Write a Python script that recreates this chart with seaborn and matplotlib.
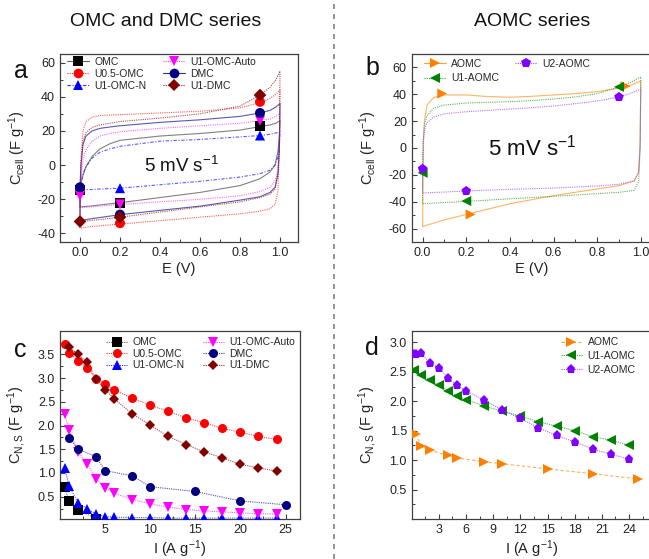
import numpy as np
import pandas as pd
import matplotlib
matplotlib.use('Agg')
import matplotlib.pyplot as plt
import seaborn as sns
from matplotlib.lines import Line2D
from matplotlib.ticker import MultipleLocator

sns.set_theme(style="ticks")
plt.rcParams['font.family'] = ['Liberation Sans', 'DejaVu Sans']
plt.rcParams['mathtext.fontset'] = 'custom'
plt.rcParams['mathtext.rm'] = 'Liberation Sans'
plt.rcParams['mathtext.it'] = 'Liberation Sans:italic'
plt.rcParams['axes.unicode_minus'] = False

# ---------------- panel a : CV loops (OMC / DMC series) ----------------
a_up_E = [0.0, 0.005, 0.015, 0.03, 0.06, 0.1, 0.15, 0.2, 0.4, 0.6, 0.8, 0.9, 0.95, 0.98, 1.0]
a_dn_E = [1.0, 0.997, 0.99, 0.975, 0.95, 0.9, 0.8, 0.6, 0.4, 0.2, 0.05, 0.0]

omc_up = [-15, -11, -6, -1, 5, 9.5, 12.5, 14.5, 17, 18.5, 20.5, 22.5, 23.5, 24.5, 26]
omc_dn = [26, 18, 8, 0, -4, -8, -12, -16, -19, -22, -24, -24.5]
u05_up = [-14.5, 5, 20, 25.5, 28, 29, 29.3, 29.5, 30.5, 31.5, 33.5, 36.5, 39, 41.5, 44]
u05_dn = [44, 10, -15, -23, -25.5, -27, -28.5, -30.5, -32.5, -34.5, -36, -37]
omcn_up = [-13, -10, -5, -1, 4, 7.5, 9.5, 11, 14, 15, 16.5, 17.3, 18, 18.8, 19.5]
omcn_dn = [19.5, 12, 5, 0, -3, -5, -7, -9.5, -11.5, -13.5, -14.3, -14.5]
auto_up = [-18, -8, 3, 9, 14, 17, 18.5, 19.5, 21.5, 23, 24.5, 26, 27, 28.5, 30]
auto_dn = [30, 10, -3, -9, -13, -15.5, -18, -20, -21.5, -23, -24.5, -25]
dmc_up = [-13, 0, 12, 17, 20, 21.5, 22.3, 23, 25, 26.5, 28.5, 30.5, 32, 34, 36]
dmc_dn = [36, 10, -5, -13, -16, -18.5, -20.5, -24, -26.5, -29, -31.5, -32.5]
u1dmc_up = [-33, 0, 14, 19, 22, 23.5, 24.5, 25.5, 27.5, 30, 34.5, 41, 45.5, 50, 55]
u1dmc_dn = [55, 15, -5, -14, -17, -19, -21.5, -24.5, -27.5, -30.5, -32.5, -33]

# marker positions (E, C) on the loops
a_mk_E = [0.0, 0.2, 0.9]
omc_mk = [-14.5, -22, 23]
u05_mk = [-14, -34, 37]
omcn_mk = [-13, -13.5, 17.3]
auto_mk = [-18, -23, 26]
dmc_mk = [-13, -29, 30.5]
u1dmc_mk = [-33, -30.5, 41]

# ---------------- panel b : CV loops (AOMC series) ----------------
b_up_E = [0.0, 0.003, 0.008, 0.02, 0.05, 0.1, 0.2, 0.3, 0.4, 0.5, 0.6, 0.7, 0.8, 0.9, 0.95, 1.0]
b_dn_E = [1.0, 0.997, 0.99, 0.97, 0.9, 0.8, 0.6, 0.4, 0.2, 0.1, 0.02, 0.0]

aomc_up = [-58, 0, 20, 32, 37.5, 39.5, 39.5, 38.3, 37.8, 38.5, 39.5, 40.5, 42, 44.5, 46.5, 50]
aomc_dn = [50, 5, -18, -24.5, -28, -30.5, -35.5, -41.5, -49.5, -53.5, -57.5, -58.5]
u1a_up = [-18.5, 5, 17, 24, 29.5, 32, 33.5, 34, 34.5, 35.3, 36.5, 38, 40.5, 45.5, 48.5, 53]
u1a_dn = [53, 0, -25, -31.5, -33, -34, -36, -37.8, -39.8, -40.6, -41.3, -41.5]
u2a_up = [-15.5, 5, 13, 19, 23, 25.5, 27, 28, 29, 30, 31.3, 33, 35, 38, 40.5, 44]
u2a_dn = [44, 0, -18, -24.5, -27, -28.3, -29.8, -30.8, -32, -32.8, -33.3, -33.5]

aomc_mk_E = [0.09, 0.93, 0.22]
aomc_mk = [40.5, 46, -49.5]
b_mk_E = [0.0, 0.2, 0.9]
u1a_mk = [-18.5, -39.5, 45.5]
u2a_mk = [-15.5, -32, 38]

# ---------------- panel c : rate capability (OMC / DMC series) ----------------
c_omc_I = [0.5, 1, 2, 4]
c_omc_C = [0.70, 0.42, 0.23, 0.03]
c_u05_I = [0.5, 1, 2, 3, 4, 5, 6, 8, 10, 12, 14, 16, 18, 20, 22, 24]
c_u05_C = [3.73, 3.54, 3.37, 3.22, 2.99, 2.87, 2.75, 2.58, 2.43, 2.30, 2.16, 2.06, 1.94, 1.86, 1.77, 1.71]
c_n_I = [0.5, 1, 2, 3, 4, 5, 6, 8, 10, 12, 14, 16, 18, 20, 22, 24]
c_n_C = [1.11, 0.73, 0.37, 0.25, 0.13, 0.08, 0.07, 0.06, 0.06, 0.05, 0.05, 0.05, 0.05, 0.05, 0.05, 0.05]
c_auto_I = [0.5, 1, 2, 3, 4, 5, 6, 8, 10, 12, 14, 16, 18, 20, 22, 24]
c_auto_C = [2.24, 1.91, 1.44, 1.20, 0.88, 0.69, 0.58, 0.44, 0.35, 0.28, 0.23, 0.20, 0.18, 0.16, 0.14, 0.14]
c_dmc_I = [1, 2, 4, 5, 8, 10, 15, 20, 25]
c_dmc_C = [1.74, 1.51, 1.34, 1.05, 0.94, 0.71, 0.61, 0.41, 0.33]
c_u1dmc_I = [1, 2, 3, 4, 5, 6, 8, 10, 12, 14, 16, 18, 20, 22, 24]
c_u1dmc_C = [3.66, 3.50, 3.33, 2.98, 2.76, 2.56, 2.25, 2.01, 1.77, 1.60, 1.44, 1.32, 1.18, 1.11, 1.04]

# ---------------- panel d : rate capability (AOMC series) ----------------
d_aomc_I = [0.5, 1, 2, 4, 5, 8, 10, 15, 20, 25]
d_aomc_C = [1.45, 1.24, 1.17, 1.08, 1.04, 0.97, 0.94, 0.85, 0.77, 0.68]
d_u1a_I = [0.25, 1, 2, 3, 4, 5, 6, 8, 10, 12, 14, 16, 18, 20, 22, 24]
d_u1a_C = [2.53, 2.44, 2.36, 2.27, 2.18, 2.09, 2.03, 1.92, 1.83, 1.75, 1.65, 1.58, 1.50, 1.40, 1.34, 1.25]
d_u2a_I = [0.2, 0.5, 1, 2, 3, 4, 5, 6, 8, 10, 12, 14, 16, 18, 20, 22, 24]
d_u2a_C = [2.80, 2.80, 2.82, 2.65, 2.57, 2.40, 2.27, 2.18, 2.02, 1.85, 1.71, 1.55, 1.42, 1.31, 1.19, 1.10, 1.02]

# series styles: (label, marker colour, line colour, linestyle, marker)
DOT = (0, (1, 1))
DASHDOT = (0, (3, 1.5, 1, 1.5))
DASH = (0, (3, 2))
st_omc = ('OMC', 'black', '#606060', '-', 's')
st_u05 = ('U0.5-OMC', '#FF0000', '#FF3030', DOT, 'o')
st_n = ('U1-OMC-N', '#0000FF', '#3030FF', DASHDOT, '^')
st_auto = ('U1-OMC-Auto', '#FF00FF', '#FF40FF', DOT, 'v')
st_dmc = ('DMC', '#000080', '#30309A', '-', 'o')
st_u1dmc = ('U1-DMC', '#800000', '#A02020', DOT, 'D')
st_aomc = ('AOMC', '#FF8000', '#FFA040', '-', '>')
st_u1a = ('U1-AOMC', '#008000', '#30A030', DOT, '<')
st_u2a = ('U2-AOMC', '#8000FF', '#A050FF', DOT, 'p')

W, H = 649, 559
fig = plt.figure(figsize=(W / 100, H / 100), dpi=100)


def px_axes(left, top, w, h):
    return fig.add_axes([left / W, 1 - (top + h) / H, w / W, h / H])


ax_a = px_axes(60, 54, 238, 188)
ax_b = px_axes(411.7, 54, 240, 188)
ax_c = px_axes(60, 330.7, 240, 188.3)
ax_d = px_axes(411.7, 330.7, 240, 188.3)


def draw_cv(ax, up_E, up_C, dn_E, dn_C, mk_E, mk_C, style, ms=52):
    label, mcol, lcol, ls, mk = style
    df = pd.DataFrame({'E': list(up_E) + list(dn_E) + [up_E[0]],
                       'C': list(up_C) + list(dn_C) + [up_C[0]]})
    sns.lineplot(data=df, x='E', y='C', sort=False, estimator=None,
                 color=lcol, linestyle=ls, linewidth=0.8, alpha=0.8, ax=ax)
    size = ms * 0.8 if mk == 'D' else ms
    sns.scatterplot(x=mk_E, y=mk_C, marker=mk, s=size, color=mcol,
                    edgecolor='none', ax=ax, zorder=4)


def draw_rate(ax, I, C, style, ls=None, ms=6.5):
    label, mcol, lcol, lsty, mk = style
    if ls is None:
        ls = DOT
    df = pd.DataFrame({'I': I, 'C': C})
    sns.lineplot(data=df, x='I', y='C', sort=False, estimator=None,
                 color=lcol, linestyle=ls, linewidth=0.8, alpha=0.85, ax=ax)
    sz = ms * 0.85 if mk == 'D' else ms
    ax.plot(I, C, linestyle='none', marker=mk, markersize=sz, color=mcol,
            markeredgewidth=0, zorder=4)


def handle(style, ls=None, ms=6.5):
    label, mcol, lcol, lsty, mk = style
    return Line2D([], [], color=lcol, linestyle=lsty if ls is None else ls, linewidth=0.8,
                  marker=mk, markersize=ms * 0.85 if mk == 'D' else ms,
                  markerfacecolor=mcol, markeredgewidth=0, label=label)


def style_axes(ax):
    for sp in ax.spines.values():
        sp.set_visible(True)
        sp.set_color('#404040')
        sp.set_linewidth(0.9)
    ax.tick_params(which='both', direction='in', top=False, right=False,
                   colors='#404040', labelcolor='#222222', labelsize=9)
    ax.tick_params(which='major', length=3.5, width=0.8)
    ax.tick_params(which='minor', length=2, width=0.7)
    ax.set_facecolor('white')


a_series = [(omc_up, omc_dn, omc_mk, st_omc), (u05_up, u05_dn, u05_mk, st_u05),
            (omcn_up, omcn_dn, omcn_mk, st_n), (auto_up, auto_dn, auto_mk, st_auto),
            (dmc_up, dmc_dn, dmc_mk, st_dmc), (u1dmc_up, u1dmc_dn, u1dmc_mk, st_u1dmc)]
for up, dn, mkc, st in a_series:
    draw_cv(ax_a, a_up_E, up, a_dn_E, dn, a_mk_E, mkc, st)

draw_cv(ax_b, b_up_E, aomc_up, b_dn_E, aomc_dn, aomc_mk_E, aomc_mk, st_aomc)
draw_cv(ax_b, b_up_E, u1a_up, b_dn_E, u1a_dn, b_mk_E, u1a_mk, st_u1a)
draw_cv(ax_b, b_up_E, u2a_up, b_dn_E, u2a_dn, b_mk_E, u2a_mk, st_u2a)

c_series = [(c_omc_I, c_omc_C, st_omc), (c_u05_I, c_u05_C, st_u05), (c_n_I, c_n_C, st_n),
            (c_auto_I, c_auto_C, st_auto), (c_dmc_I, c_dmc_C, st_dmc), (c_u1dmc_I, c_u1dmc_C, st_u1dmc)]
for I, C, st in c_series:
    draw_rate(ax_c, I, C, st)

draw_rate(ax_d, d_aomc_I, d_aomc_C, st_aomc, ls=DASH)
draw_rate(ax_d, d_u1a_I, d_u1a_C, st_u1a)
draw_rate(ax_d, d_u2a_I, d_u2a_C, st_u2a)

# axes ranges / ticks
ax_a.set_xlim(-0.1, 1.09)
ax_a.set_ylim(-45, 65)
ax_a.xaxis.set_major_locator(MultipleLocator(0.2))
ax_a.xaxis.set_minor_locator(MultipleLocator(0.1))
ax_a.yaxis.set_major_locator(MultipleLocator(20))
ax_a.yaxis.set_minor_locator(MultipleLocator(10))

ax_b.set_xlim(-0.05, 1.05)
ax_b.set_ylim(-70, 70)
ax_b.xaxis.set_major_locator(MultipleLocator(0.2))
ax_b.xaxis.set_minor_locator(MultipleLocator(0.1))
ax_b.yaxis.set_major_locator(MultipleLocator(20))
ax_b.yaxis.set_minor_locator(MultipleLocator(10))

ax_c.set_xlim(0, 26.6)
ax_c.set_ylim(0.03, 4.0)
ax_c.set_xticks([5, 10, 15, 20, 25])
ax_c.xaxis.set_minor_locator(MultipleLocator(2.5))
ax_c.set_yticks([0.5, 1.0, 1.5, 2.0, 2.5, 3.0, 3.5])
ax_c.yaxis.set_minor_locator(MultipleLocator(0.25))

ax_d.set_xlim(0, 26.5)
ax_d.set_ylim(0, 3.2)
ax_d.set_xticks([3, 6, 9, 12, 15, 18, 21, 24])
ax_d.xaxis.set_minor_locator(MultipleLocator(1.5))
ax_d.set_yticks([0.5, 1.0, 1.5, 2.0, 2.5, 3.0])
ax_d.yaxis.set_minor_locator(MultipleLocator(0.25))

for ax in (ax_a, ax_b, ax_c, ax_d):
    style_axes(ax)

cv_ylabel = r'C$_{\rm cell}$ (F g$^{-1}$)'
rate_ylabel = r'C$_{\rm N,S}$ (F g$^{-1}$)'
for ax, xl, yl in ((ax_a, 'E (V)', cv_ylabel), (ax_b, 'E (V)', cv_ylabel),
                   (ax_c, r'I (A g$^{-1}$)', rate_ylabel), (ax_d, r'I (A g$^{-1}$)', rate_ylabel)):
    ax.set_xlabel(xl, fontsize=10.5, color='#222222')
    ax.set_ylabel(yl, fontsize=10.5, color='#222222')
    ax.xaxis.set_label_coords(0.5, -0.105)
    ax.yaxis.set_label_coords(-0.135, 0.5)

# panel letters
for ax, letter, y in ((ax_a, 'a', 0.91), (ax_b, 'b', 0.925), (ax_c, 'c', 0.90), (ax_d, 'd', 0.91)):
    ax.text(-0.165, y, letter, transform=ax.transAxes, fontsize=18,
            ha='center', va='center', color='#111111')

ax_a.text(0.505, -0.7, r'5 mV s$^{-1}$', fontsize=13.5, ha='center', va='center', color='#111111')
ax_b.text(0.50, 0.0, r'5 mV s$^{-1}$', fontsize=16, ha='center', va='center', color='#111111')

# legends
leg_kw = dict(frameon=False, numpoints=1, handlelength=2.1, handletextpad=0.5,
              borderpad=0, borderaxespad=0, fontsize=7.5, loc='upper left')
ax_a.legend(handles=[handle(s, ms=7) for s in (st_omc, st_u05, st_n, st_auto, st_dmc, st_u1dmc)],
            ncol=2, columnspacing=1.6, labelspacing=0.2, bbox_to_anchor=(0.03, 0.985), **leg_kw)
ax_b.legend(handles=[handle(s, ms=7) for s in (st_aomc, st_u1a, st_u2a)],
            ncol=2, columnspacing=1.6, labelspacing=0.45, bbox_to_anchor=(0.05, 0.975), **leg_kw)
ax_c.legend(handles=[handle(s, ls=DOT) for s in (st_omc, st_u05, st_n, st_auto, st_dmc, st_u1dmc)],
            ncol=2, columnspacing=1.7, labelspacing=0.15, bbox_to_anchor=(0.19, 0.965), **leg_kw)
ax_d.legend(handles=[handle(st_aomc, ls=DASH), handle(st_u1a), handle(st_u2a)],
            ncol=1, labelspacing=0.35, bbox_to_anchor=(0.62, 0.965), **leg_kw)

# series headers and separator
fig.text(166 / W, 1 - 21 / H, 'OMC and DMC series', fontsize=14, ha='center', va='center', color='#111111')
fig.text(532 / W, 1 - 21 / H, 'AOMC series', fontsize=14, ha='center', va='center', color='#111111')
fig.add_artist(Line2D([334 / W, 334 / W], [0, 1], transform=fig.transFigure,
                      color='#808080', linestyle=(0, (3, 3)), linewidth=1.2))

fig.savefig('out.png', dpi=100)
